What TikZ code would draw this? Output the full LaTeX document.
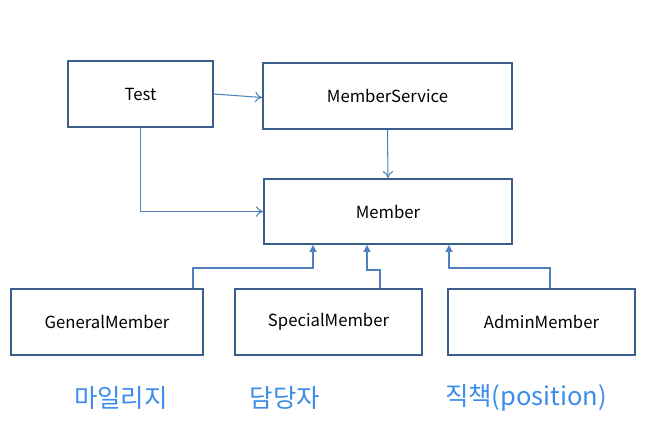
\documentclass[tikz,border=0pt]{standalone}
\usepackage{fontspec}
\setmainfont{Noto Sans CJK KR}
\usetikzlibrary{arrows.meta}

\definecolor{boxline}{HTML}{3A5F8E}
\definecolor{arrowline}{HTML}{4F81BD}
\definecolor{notetext}{HTML}{3C8DEB}

\tikzset{
    classbox/.style={draw=boxline, line width=1.1pt, minimum height=1.32cm, font=\fontsize{9.5}{11}\selectfont},
    uses/.style={draw=arrowline, line width=0.6pt, -{To[length=4pt,width=6pt]}},
    extends/.style={draw=arrowline, line width=0.6pt, -{Triangle[length=4pt,width=4pt]}},
    note/.style={text=notetext, font=\fontsize{14.5}{17}\selectfont}
}

\begin{document}
\begin{tikzpicture}[x=0.02cm, y=-0.02cm]

    % Page frame
    \useasboundingbox (0,0) rectangle (654,422);

    % Define the class boxes
    \node[classbox, minimum width=2.9cm] (Test) at (140.5, 94) {Test};
    \node[classbox, minimum width=4.98cm] (MemberService) at (387.5, 96) {MemberService};
    \node[classbox, minimum width=4.96cm, minimum height=1.3cm] (Member) at (388, 211.5) {Member};
    \node[classbox, minimum width=3.84cm] (GeneralMember) at (107, 322) {GeneralMember};
    \node[classbox, minimum width=3.74cm] (SpecialMember) at (328.5, 322) {SpecialMember};
    \node[classbox, minimum width=3.74cm] (AdminMember) at (541.5, 322) {AdminMember};

    % Test uses MemberService
    \draw[uses] (Test.east) -- ([yshift=-0.03cm]MemberService.west);

    % Test uses Member
    \draw[uses] (Test.south) |- (Member.west);

    % MemberService uses Member
    \draw[uses] (MemberService.south) -- (Member.north);

    % GeneralMember extends Member
    \draw[extends] (GeneralMember.north -| 193,0) |- (313,268) -- (Member.south -| 313,0);

    % SpecialMember extends Member
    \draw[extends] (SpecialMember.north -| 380,0) |- (367,270) -- (Member.south -| 367,0);

    % AdminMember extends Member
    \draw[extends] (AdminMember.north -| 550,0) |- (449,268) -- (Member.south -| 449,0);

    % Notes under the subclasses
    \node[note] (GeneralNote) at (121, 398) {마일리지};
    \node[note] (SpecialNote) at (285, 398) {담당자};
    \node[note] (AdminNote) at (526, 398) {직책(position)};

\end{tikzpicture}
\end{document}
